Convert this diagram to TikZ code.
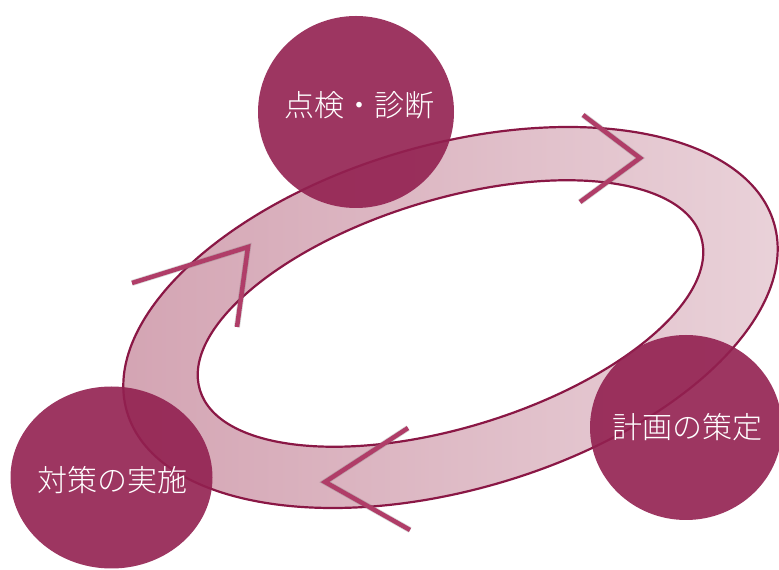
\documentclass[tikz,border=0pt]{standalone}
\usepackage{fontspec}
\newfontfamily\jpfont{Noto Sans CJK JP}[UprightFont=* Light]
\definecolor{ringL}{HTML}{D3A3B2}
\definecolor{ringR}{HTML}{EAD3DA}
\definecolor{ringline}{HTML}{8A1745}
\definecolor{disc}{HTML}{922050}
\definecolor{chev}{HTML}{B03D68}
\tikzset{
  discnode/.style={fill=disc, fill opacity=0.9, draw=none},
  disctext/.style={text=white, font=\jpfont\fontsize{30}{32}\selectfont, inner sep=0pt},
  chevline/.style={draw=chev, line width=4.5pt, line join=miter, line cap=butt},
  chevshadow/.style={draw=black!60, line width=6pt, opacity=0.25, line join=miter},
}
\begin{document}
\begin{tikzpicture}[x=1pt,y=1pt]
\useasboundingbox (0,0) rectangle (779,570);
% ring
\coordinate (oc) at (450.5,252.5);
\coordinate (ic) at (450.5,256.5);
\shade[left color=ringL, right color=ringR, rotate around={16.2:(oc)}]
  (oc) ellipse [x radius=337, y radius=172.5];
\fill[white, rotate around={17:(ic)}] (ic) ellipse [x radius=262, y radius=114];
\draw[ringline, line width=2.2pt, rotate around={16.2:(oc)}] (oc) ellipse [x radius=337, y radius=172.5];
\draw[ringline, line width=2.2pt, rotate around={17:(ic)}] (ic) ellipse [x radius=262, y radius=114];
% discs
\path[discnode] (356,458) ellipse [x radius=98, y radius=96];
\path[discnode] (686,142.5) ellipse [x radius=96, y radius=92.5];
\path[discnode] (111.5,92.5) ellipse [x radius=101, y radius=91];
\node[disctext] (a) at (359,465) {点検・診断};
\node[disctext] (b) at (687,143) {計画の策定};
\node[disctext] (c) at (112,90) {対策の実施};
% chevrons
\coordinate (t1) at (583,455); \coordinate (t2) at (640,412); \coordinate (t3) at (580,368);
\coordinate (l1) at (132,287); \coordinate (l2) at (248,323); \coordinate (l3) at (237,243);
\coordinate (b1) at (408,142); \coordinate (b2) at (325,88); \coordinate (b3) at (410,40);
\begin{scope}[shift={(4,-5)}]
\draw[chevshadow] (t1) -- (t2) -- (t3);
\draw[chevshadow] (l1) -- (l2) -- (l3);
\draw[chevshadow] (b1) -- (b2) -- (b3);
\end{scope}
\draw[chevline] (t1) -- (t2) -- (t3);
\draw[chevline] (l1) -- (l2) -- (l3);
\draw[chevline] (b1) -- (b2) -- (b3);
\end{tikzpicture}
\end{document}
